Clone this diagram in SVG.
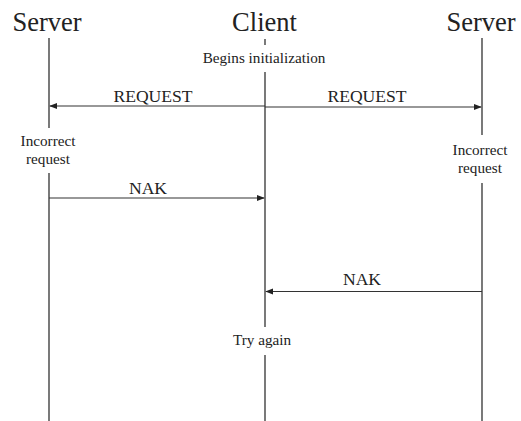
<svg xmlns="http://www.w3.org/2000/svg" width="521" height="421" viewBox="0 0 521 421">
<style>
text{fill:#222;text-anchor:middle;font-family:"Liberation Serif","Times New Roman",Tinos,serif}
.h{font-size:26.5px}
.s{font-size:15.2px}
.m{font-size:17.6px}
.ll{stroke:#222;stroke-width:1.2;fill:none}
.ar{stroke:#333;stroke-width:1.2;fill:none;marker-end:url(#a)}
</style>
<defs>
<marker id="a" viewBox="0 0 10 10" refX="9" refY="5" markerWidth="8" markerHeight="8" markerUnits="userSpaceOnUse" orient="auto">
<path d="M0,1 L10,5 L0,9 Z" fill="#222"/>
</marker>
</defs>
<rect width="521" height="421" fill="#fff"/>
<g id="server-left">
<text class="h" x="47" y="31">Server</text>
<path class="ll" d="M49,38 V128 M49,173 V421"/>
<text class="s" x="48" y="146">Incorrect</text>
<text class="s" x="48" y="164">request</text>
</g>
<g id="client">
<text class="h" x="264.5" y="31">Client</text>
<path class="ll" d="M265,39 V45 M265,72 V327 M265,355 V421"/>
<text class="s" x="264" y="63">Begins initialization</text>
<text class="s" x="262" y="345">Try again</text>
</g>
<g id="server-right">
<text class="h" x="481" y="31">Server</text>
<path class="ll" d="M482,38 V135 M482,183 V421"/>
<text class="s" x="480" y="155">Incorrect</text>
<text class="s" x="480" y="173">request</text>
</g>
<g id="connectors">
<path class="ar" d="M265,106 H50"/>
<text class="m" x="153" y="101.5">REQUEST</text>
<path class="ar" d="M265,107 H481"/>
<text class="m" x="367" y="101.5">REQUEST</text>
<path class="ar" d="M49,198 H264"/>
<text class="m" x="148" y="194">NAK</text>
<path class="ar" d="M482,291.5 H266"/>
<text class="m" x="362" y="285">NAK</text>
</g>
</svg>
